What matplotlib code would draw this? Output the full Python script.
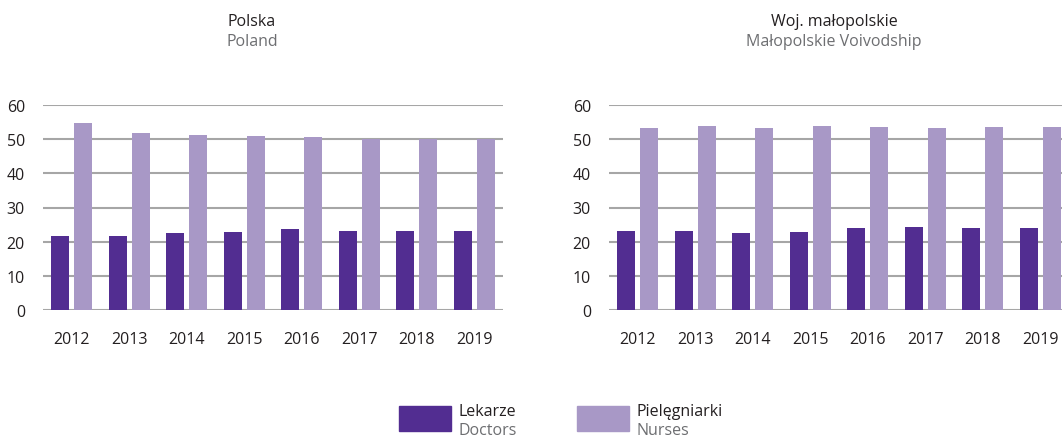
import matplotlib
matplotlib.use('Agg')
import matplotlib.pyplot as plt
import numpy as np
from matplotlib.patches import Rectangle

plt.rcParams['font.family'] = ['Open Sans', 'DejaVu Sans']

years = ['2012', '2013', '2014', '2015', '2016', '2017', '2018', '2019']

# lekarze / pielęgniarki na 10 tys. ludności
polska_lekarze = [21.7, 21.7, 22.6, 22.9, 23.8, 23.2, 23.2, 23.2]
polska_pielegniarki = [54.6, 51.9, 51.3, 51.0, 50.7, 50.1, 50.1, 50.1]
malopolska_lekarze = [23.2, 23.2, 22.6, 22.9, 24.0, 24.3, 24.0, 24.0]
malopolska_pielegniarki = [53.4, 54.0, 53.4, 54.0, 53.7, 53.4, 53.7, 53.7]

yticks = [0, 10, 20, 30, 40, 50, 60]

DARK = '#522d91'
LIGHT = '#a898c6'
GRID = '#a6a6a6'
TXT = '#231f20'
SUB = '#6d6e71'

W, H = 1062, 439
fig = plt.figure(figsize=(W / 100, H / 100), dpi=100)


def panel(left_px, lekarze, pielegniarki):
    ax = fig.add_axes([left_px / W, 128 / H, 460 / W, 205 / H])
    x = np.arange(len(years))
    bw = 0.315
    ax.bar(x - 0.2, lekarze, width=bw, color=DARK, zorder=3)
    ax.bar(x + 0.2, pielegniarki, width=bw, color=LIGHT, zorder=3)
    ax.set_xlim(-0.5, len(years) - 0.5)
    ax.set_ylim(0, 60)
    ax.set_yticks(yticks)
    ax.set_xticks(x)
    ax.set_xticklabels(years)
    for t in yticks:
        ax.axhline(t, color=GRID, lw=1.5, zorder=1)
    for s in ax.spines.values():
        s.set_visible(False)
    ax.tick_params(axis='both', length=0, labelsize=11.5, colors=TXT)
    ax.tick_params(axis='y', pad=13)
    ax.tick_params(axis='x', pad=15)
    return ax


panel(43, polska_lekarze, polska_pielegniarki)
panel(609, malopolska_lekarze, malopolska_pielegniarki)

# tytuły paneli (PL / EN)
fig.text(252 / W, 1 - 22 / H, 'Polska', ha='center', va='center', fontsize=11.5, color=TXT)
fig.text(252 / W, 1 - 42 / H, 'Poland', ha='center', va='center', fontsize=11.5, color=SUB)
fig.text(834 / W, 1 - 22 / H, 'Woj. małopolskie', ha='center', va='center', fontsize=11.5, color=TXT)
fig.text(834 / W, 1 - 42 / H, 'Małopolskie Voivodship', ha='center', va='center',
         fontsize=11.5, color=SUB)

# legenda
legend = [(399, DARK, 'Lekarze', 'Doctors'), (577, LIGHT, 'Pielęgniarki', 'Nurses')]
for x0, col, pl, en in legend:
    fig.patches.append(Rectangle((x0 / W, 1 - 432 / H), 52 / W, 25 / H,
                                 color=col, transform=fig.transFigure))
    fig.text((x0 + 60) / W, 1 - 412 / H, pl, ha='left', va='center', fontsize=11.5, color=TXT)
    fig.text((x0 + 60) / W, 1 - 431 / H, en, ha='left', va='center', fontsize=11.5, color=SUB)

fig.savefig('out.png', dpi=100)
